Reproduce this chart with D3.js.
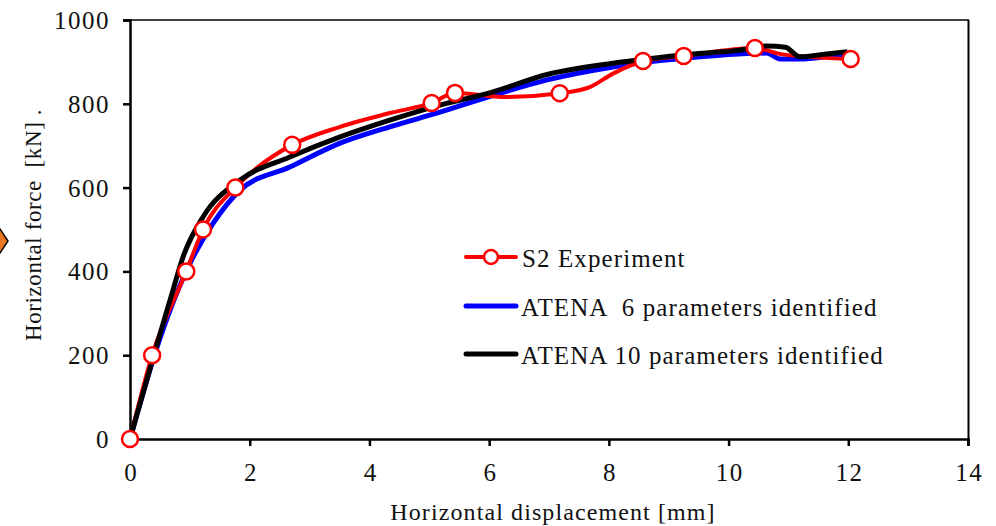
<!DOCTYPE html>
<html><head><meta charset="utf-8">
<script src="https://cdn.jsdelivr.net/npm/d3@7"></script>
<style>body{margin:0;background:#fff}svg{display:block}</style>
</head><body><svg id="c" width="996" height="526"></svg>
<script>
const FONT="Liberation Serif";
const xTicks=[0,2,4,6,8,10,12,14];
const yTicks=[0,200,400,600,800,1000];
const expX=[0,0.37,0.94,1.22,1.76,2.12,2.71,3.51,4.34,5.04,5.43,6.28,7.18,7.68,8.07,8.57,9.25,10.44,10.9,12.04];
const expY=[0,200,400,500,600,647,702,745,778,802,826,816,825,840,872,902,914,933,918,907];
const sim6X=[0,0.5,0.97,1.39,1.84,2.67,3.51,4.34,5.18,6.18,6.97,8.07,9.52,10.3,10.64,10.86,11.2,11.6,12.03];
const sim6Y=[0,240,410,515,594,649,706,745,780,825,857,888,912,920,921,907,907,912,922];
const sim10X=[0,0.67,0.9,1.22,1.84,2.67,3.51,4.34,5.18,6.01,6.97,8.07,9.19,10.3,10.64,10.95,11.19,11.6,11.98];
const sim10Y=[0,332,440,530,618,673,721,761,797,826,870,897,916,930,938,935,912,918,924];
const markIdx=[0,1,2,3,4,6,9,10,12,15,16,17,19];
const legendLabels=["S2 Experiment","ATENA  6 parameters identified","ATENA 10 parameters identified"];

const svg=d3.select("#c");
const x=d3.scaleLinear().domain([0,14]).range([130,968]);
const y=d3.scaleLinear().domain([0,1000]).range([439,20]);

svg.append("polygon").attr("points","-8,241 0,229 8,241 0,253").attr("fill","#e8761e").attr("stroke","#000").attr("stroke-width",1.5);

svg.append("line").attr("x1",130).attr("x2",969).attr("y1",20).attr("y2",20).attr("stroke","#000").attr("stroke-width",1.5);
svg.append("line").attr("x1",968.5).attr("x2",968.5).attr("y1",20).attr("y2",439).attr("stroke","#000").attr("stroke-width",2);

const xa=svg.append("g").attr("transform","translate(0,439)").call(d3.axisBottom(x).tickValues(xTicks).tickSize(7).tickPadding(0).tickFormat(d3.format("d")));
const ya=svg.append("g").attr("transform","translate(130,0)").call(d3.axisLeft(y).tickValues(yTicks).tickSize(7).tickPadding(13).tickFormat(d3.format("d")));
[xa,ya].forEach(a=>{a.attr("font-family",FONT).attr("font-size",25);a.select(".domain").attr("stroke","#000").attr("stroke-width",2.5);
 a.selectAll(".tick line").attr("stroke","#000").attr("stroke-width",2.5);
 a.selectAll(".tick text").attr("font-family",FONT).attr("font-size",25).attr("fill","#111").attr("letter-spacing",1.5);});
xa.selectAll(".tick text").attr("y",42).attr("dy",0).attr("dx",0.75);
ya.selectAll(".tick text").attr("dy","0.34em");

const line=d3.line().x(d=>x(d[0])).y(d=>y(d[1])).curve(d3.curveMonotoneX);
const zip=(a,b)=>a.map((v,i)=>[v,b[i]]);
svg.append("path").attr("d",line(zip(sim6X,sim6Y))).attr("fill","none").attr("stroke","#0000ff").attr("stroke-width",5).attr("stroke-linejoin","round");
svg.append("path").attr("d",line(zip(expX,expY))).attr("fill","none").attr("stroke","#ff0000").attr("stroke-width",4).attr("stroke-linejoin","round");
svg.append("path").attr("d",line(zip(sim10X,sim10Y))).attr("fill","none").attr("stroke","#000").attr("stroke-width",5).attr("stroke-linejoin","round");
svg.selectAll("circle.m").data(markIdx.map(i=>[expX[i],expY[i]])).enter().append("circle")
 .attr("cx",d=>x(d[0])).attr("cy",d=>y(d[1])).attr("r",8).attr("fill","#fff").attr("stroke","#ff0000").attr("stroke-width",2.5);

const lg=[{c:"#ff0000",w:4,y:257,m:true},{c:"#0000ff",w:5,y:306},{c:"#000",w:5,y:354}];
lg.forEach((d,i)=>{
 svg.append("line").attr("x1",466).attr("x2",516).attr("y1",d.y).attr("y2",d.y).attr("stroke",d.c).attr("stroke-width",d.w).attr("stroke-linecap","round");
 if(d.m) svg.append("circle").attr("cx",491).attr("cy",d.y).attr("r",7).attr("fill","#fff").attr("stroke","#ff0000").attr("stroke-width",2.5);
 svg.append("text").attr("x",i==0?522:521).attr("y",d.y+9.5).attr("font-family",FONT).attr("font-size",25).attr("fill","#111").attr("letter-spacing",1.1).attr("xml:space","preserve").text(legendLabels[i]);
});

svg.append("text").attr("x",553).attr("y",520).attr("text-anchor","middle").attr("font-family",FONT).attr("font-size",24).attr("fill","#111").attr("letter-spacing",1.1).text("Horizontal displacement [mm]");
svg.append("text").attr("transform","translate(41,225) rotate(-90)").attr("text-anchor","middle").attr("font-family",FONT).attr("font-size",23).attr("fill","#111").attr("letter-spacing",0.6).attr("xml:space","preserve").text("Horizontal force  [kN] .");
</script></body></html>
